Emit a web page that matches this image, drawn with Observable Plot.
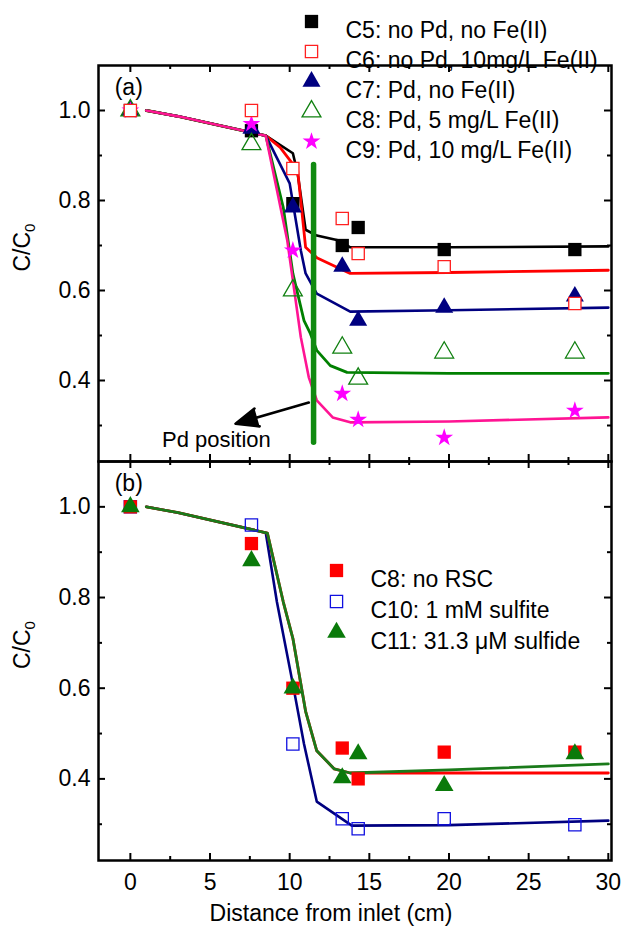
<!DOCTYPE html>
<html><head><meta charset="utf-8">
<script src="https://cdn.jsdelivr.net/npm/d3@7"></script>
<script src="https://cdn.jsdelivr.net/npm/@observablehq/plot@0.6"></script>
<style>
body{margin:0;background:#fff;}
#wrap{position:relative;width:630px;height:946px;font-family:"Liberation Sans",Arial,sans-serif;}
#wrap svg{position:absolute;left:0;overflow:visible;}
</style></head><body><div id="wrap"></div>
<script>
// ---------- axes ----------
const xDomain = [-2, 30.2];
const yDomain = [0.22, 1.1];
const xMajor = [0, 5, 10, 15, 20, 25, 30];
const xMinor = [2.5, 7.5, 12.5, 17.5, 22.5, 27.5];
const yMajor = [0.4, 0.6, 0.8, 1.0];
const yMinor = [0.3, 0.5, 0.7, 0.9];
const xTitle = "Distance from inlet (cm)";
const yTitle = "C/C";

// ---------- panel (a) measured points ----------
const distA = [0, 7.6, 10.2, 13.3, 14.3, 19.7, 27.9];
const c5 = [1.0, 0.955, 0.793, 0.70, 0.74, 0.691, 0.691];
const c6 = [1.0, 1.0, 0.871, 0.76, 0.682, 0.653, 0.571];
const c7 = [1.0, 0.96, 0.785, 0.653, 0.533, 0.562, 0.587];
const c8 = [1.0, 0.925, 0.60, 0.473, 0.404, 0.462, 0.462];
const c9 = [1.0, 0.97, 0.689, 0.371, 0.313, 0.273, 0.333];

// ---------- panel (a) model curves ----------
const c5ModelX = [1, 3, 8.5, 10.2, 10.5, 11.0, 11.7, 13.1, 13.8, 20, 30];
const c5ModelY = [1.0, 0.987, 0.944, 0.905, 0.86, 0.735, 0.722, 0.711, 0.696, 0.696, 0.698];
const c6ModelX = [1, 3, 8.5, 9.4, 10.5, 11.0, 11.7, 13.8, 20, 30];
const c6ModelY = [1.0, 0.987, 0.944, 0.918, 0.867, 0.696, 0.673, 0.638, 0.640, 0.645];
const c7ModelX = [1, 3, 8.5, 10.0, 10.7, 11.0, 11.7, 13.8, 20, 30];
const c7ModelY = [1.0, 0.987, 0.944, 0.838, 0.689, 0.638, 0.593, 0.553, 0.556, 0.562];
const c8ModelX = [1, 3, 8.5, 9.6, 10.2, 10.9, 11.3, 11.7, 12.55, 13.6, 20, 30];
const c8ModelY = [1.0, 0.987, 0.944, 0.784, 0.638, 0.533, 0.504, 0.467, 0.433, 0.418, 0.416, 0.416];
const c9ModelX = [1, 3, 8.5, 9.85, 10.7, 11.2, 11.7, 12.7, 13.8, 20, 30];
const c9ModelY = [1.0, 0.987, 0.944, 0.711, 0.496, 0.407, 0.356, 0.318, 0.307, 0.309, 0.318];

// Pd position marker and arrow
const pdLineX = [11.5, 11.5];
const pdLineY = [0.88, 0.263];
const pdArrow = {x1: 11.2, y1: 0.351, x2: 6.6, y2: 0.304};
const pdLabel = {x: 5.4, y: 0.268, text: "Pd position"};

// ---------- panel (b) measured points ----------
const distB = [0, 7.6, 10.2, 13.3, 14.3, 19.7, 27.9];
const c8b = [1.0, 0.919, 0.60, 0.468, 0.40, 0.459, 0.459];
const c10 = [1.0, 0.96, 0.477, 0.312, 0.29, 0.312, 0.299];
const c11 = [1.0, 0.881, 0.60, 0.402, 0.455, 0.385, 0.455];

// ---------- panel (b) model curves ----------
const c8bModelX = [1, 3, 8.6, 9.6, 10.2, 11.0, 11.7, 12.8, 13.8, 20, 30];
const c8bModelY = [1.0, 0.987, 0.942, 0.79, 0.71, 0.549, 0.462, 0.422, 0.413, 0.413, 0.413];
const c10ModelX = [1, 3, 8.5, 9.2, 10.2, 10.9, 11.7, 13.9, 20, 30];
const c10ModelY = [1.0, 0.987, 0.943, 0.79, 0.609, 0.477, 0.35, 0.297, 0.298, 0.308];
const c11ModelX = [1, 3, 8.6, 9.6, 10.2, 11.0, 11.7, 12.8, 13.8, 20, 30];
const c11ModelY = [1.0, 0.987, 0.942, 0.79, 0.71, 0.549, 0.462, 0.422, 0.413, 0.42, 0.433];

// ---------- legend labels ----------
const legendA = ["C5: no Pd, no Fe(II)", "C6: no Pd, 10mg/L Fe(II)", "C7: Pd, no Fe(II)", "C8: Pd, 5 mg/L Fe(II)", "C9: Pd, 10 mg/L Fe(II)"];
const legendB = ["C8: no RSC", "C10: 1 mM sulfite", "C11: 31.3 \u03bcM sulfide"];

// ---------- styles ----------
const sC5 = {symbol: "square", r: 7.5, fill: "#000000", stroke: "none", sw: 0};
const sC6 = {symbol: "square", r: 6.9, fill: "white", stroke: "#ff2020", sw: 1.3};
const sC7 = {symbol: "triangle", r: 6.7, fill: "#000080", stroke: "none", sw: 0};
const sC8 = {symbol: "triangle", r: 7.0, fill: "none", stroke: "#108010", sw: 1.3};
const sC9 = {symbol: "star", r: 5.6, fill: "#ff00ff", stroke: "none", sw: 0};
const sC8b = {symbol: "square", r: 7.5, fill: "#ff0000", stroke: "none", sw: 0};
const sC10 = {symbol: "square", r: 6.9, fill: "none", stroke: "#1010e0", sw: 1.3};
const sC11 = {symbol: "triangle", r: 6.9, fill: "#0a7a0a", stroke: "none", sw: 0};

const FONT = "'Liberation Sans', Arial, sans-serif";
const FS = 23;
const W = 630, ML = 98, MR = 19;
const plotW = W - ML - MR;

function pts(xs, ys) { return xs.map((x, i) => ({x, y: ys[i]})); }
function dots(xs, ys, s) {
  return Plot.dot(pts(xs, ys), {x: "x", y: "y", symbol: s.symbol, r: s.r, fill: s.fill, stroke: s.stroke, strokeWidth: s.sw});
}
function curve(xs, ys, color, w = 2.6) {
  return Plot.line(pts(xs, ys), {x: "x", y: "y", stroke: color, strokeWidth: w, strokeLinejoin: "round"});
}
function frameTicks(plotH) {
  const sw = 2;
  return [
    Plot.ruleX(xMajor, {x: d => d, insetTop: plotH - 7, strokeWidth: sw}),
    Plot.ruleX(xMajor, {x: d => d, insetBottom: plotH - 7, strokeWidth: sw}),
    Plot.ruleX(xMinor, {x: d => d, insetTop: plotH - 4, strokeWidth: sw}),
    Plot.ruleX(xMinor, {x: d => d, insetBottom: plotH - 4, strokeWidth: sw}),
    Plot.ruleY(yMajor, {y: d => d, insetRight: plotW - 7, strokeWidth: sw}),
    Plot.ruleY(yMajor, {y: d => d, insetLeft: plotW - 7, strokeWidth: sw}),
    Plot.ruleY(yMinor, {y: d => d, insetRight: plotW - 4, strokeWidth: sw}),
    Plot.ruleY(yMinor, {y: d => d, insetLeft: plotW - 4, strokeWidth: sw}),
    Plot.frame({stroke: "black", strokeWidth: 2.5})
  ];
}
function legendEntries(labels, styles, mdx, tdx, dy0, step) {
  const out = [];
  labels.forEach((lab, i) => {
    const s = styles[i];
    out.push(Plot.dot([lab], {frameAnchor: "top-left", dx: mdx, dy: dy0 + i * step, symbol: s.symbol, r: s.r, fill: s.fill, stroke: s.stroke, strokeWidth: s.sw}));
    out.push(Plot.text([lab], {frameAnchor: "top-left", dx: tdx, dy: dy0 + i * step, text: d => d, textAnchor: "start", fontSize: FS, fill: "black"}));
  });
  return out;
}
function yLabel() {
  return Plot.text([yTitle], {frameAnchor: "left", dx: -76, dy: 8, rotate: -90, text: d => d, fontSize: FS, fill: "black"});
}
function panelTag(t) {
  return Plot.text([t], {x: () => -0.1, y: () => 1.051, text: d => d, fontSize: FS, fill: "black"});
}

// ---------- panel (a) ----------
const HA = 463, MTA = 65, MBA = 2;
const plotHA = HA - MTA - MBA;
const panelA = Plot.plot({
  width: W, height: HA,
  marginLeft: ML, marginRight: MR, marginTop: MTA, marginBottom: MBA,
  style: {fontFamily: FONT, fontSize: FS + "px", background: "transparent", overflow: "visible"},
  x: {domain: xDomain, axis: null},
  y: {domain: yDomain, axis: null},
  marks: [
    curve(c5ModelX, c5ModelY, "#000000"),
    curve(c6ModelX, c6ModelY, "#ff0000", 2.8),
    curve(c7ModelX, c7ModelY, "#000080"),
    curve(c8ModelX, c8ModelY, "#008000", 2.8),
    curve(c9ModelX, c9ModelY, "#ff1493", 2.6),
    Plot.line(pts(pdLineX, pdLineY), {x: "x", y: "y", stroke: "#108a10", strokeWidth: 5.5, strokeLinecap: "round"}),
    Plot.arrow([pdArrow], {x1: "x1", y1: "y1", x2: "x2", y2: "y2", stroke: "black", fill: "black", strokeWidth: 2.6, headLength: 14, headAngle: 45, strokeLinejoin: "miter"}),
    Plot.text([pdLabel], {x: "x", y: "y", text: "text", fontSize: 22, fill: "black"}),
    dots(distA, c5, sC5),
    dots(distA, c7, sC7),
    dots(distA, c8, sC8),
    dots(distA, c9, sC9),
    dots(distA, c6, sC6),
    ...frameTicks(plotHA),
    Plot.axisY(yMajor, {anchor: "left", tickSize: 0, tickPadding: 8, tickFormat: d3.format(".1f"), fontSize: FS, label: null}),
    yLabel(),
    panelTag("(a)"),
    ...legendEntries(legendA, [sC5, sC6, sC7, sC8, sC9], 213, 247, -44, 30)
  ]
});

// ---------- panel (b) ----------
const HB = 485, MTB = 0, MBB = 86;
const plotHB = HB - MTB - MBB;
const panelB = Plot.plot({
  width: W, height: HB,
  marginLeft: ML, marginRight: MR, marginTop: MTB, marginBottom: MBB,
  style: {fontFamily: FONT, fontSize: FS + "px", background: "transparent", overflow: "visible"},
  x: {domain: xDomain, axis: null},
  y: {domain: yDomain, axis: null},
  marks: [
    curve(c10ModelX, c10ModelY, "#000080", 2.6),
    curve(c8bModelX, c8bModelY, "#ff0000", 2.8),
    curve(c11ModelX, c11ModelY, "#1a7a1a", 2.8),
    dots(distB, c10, sC10),
    dots(distB, c8b, sC8b),
    dots(distB, c11, sC11),
    ...frameTicks(plotHB),
    Plot.axisY(yMajor, {anchor: "left", tickSize: 0, tickPadding: 8, tickFormat: d3.format(".1f"), fontSize: FS, label: null}),
    Plot.axisX(xMajor, {anchor: "bottom", tickSize: 0, tickPadding: 13, tickFormat: d3.format("d"), fontSize: FS, label: null}),
    Plot.text([xTitle], {frameAnchor: "bottom", dx: -24, dy: 60, text: d => d, fontSize: FS, fill: "black"}),
    yLabel(),
    panelTag("(b)"),
    ...legendEntries(legendB, [sC8b, sC10, sC11], 238, 272, 109, 31)
  ]
});

const wrap = document.getElementById("wrap");
panelA.style.top = "0px";
panelB.style.top = "461px";
wrap.appendChild(panelB);
wrap.appendChild(panelA);

// subscript 0 on the y-axis titles
for (const svg of [panelA, panelB]) {
  svg.querySelectorAll("text").forEach(t => {
    if (t.textContent === yTitle) {
      const s = document.createElementNS("http://www.w3.org/2000/svg", "tspan");
      s.setAttribute("font-size", "15");
      s.setAttribute("dy", "0.35em");
      s.textContent = "0";
      t.appendChild(s);
    }
  });
}
</script></body></html>
